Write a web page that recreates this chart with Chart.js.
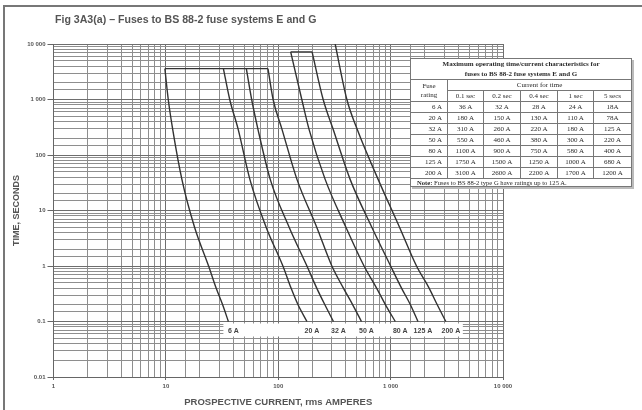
<!DOCTYPE html>
<html><head><meta charset="utf-8">
<script src="https://cdn.jsdelivr.net/npm/chart.js@4/dist/chart.umd.min.js"></script>
<style>
html,body{margin:0;padding:0;background:#fff;}
#wrap{position:relative;width:642px;height:410px;overflow:hidden;background:#fff;}
#frame{position:absolute;left:3px;top:5px;width:700px;height:420px;border-left:2px solid #777;border-top:2px solid #777;}
#c{position:absolute;left:0;top:0;}
#title{position:absolute;left:55px;top:13px;font:bold 10.6px "Liberation Sans",Arial,sans-serif;color:#555;white-space:nowrap;}
#tbl{position:absolute;left:410px;top:58px;border-collapse:collapse;table-layout:fixed;width:221px;background:#fff;font-family:"Liberation Serif","Times New Roman",serif;font-size:7px;color:#2a2a2a;box-shadow:2px 2px 0 #bbb;}
#tbl td{border:1px solid #777;padding:0;text-align:center;height:10px;line-height:9px;white-space:nowrap;overflow:hidden;}
#tbl td.r{text-align:right;padding-right:5px;}
#tbl td.note{text-align:left;padding-left:6px;height:7px;line-height:7px;font-size:6.6px;}
#tbl td.head{font-weight:bold;line-height:10px;height:20px;}
</style></head>
<body>
<div id="wrap">
  <div id="frame"></div>
  <canvas id="c" width="642" height="410"></canvas>
  <div id="title">Fig 3A3(a) – Fuses to BS 88-2 fuse systems E and G</div>
  <table id="tbl"></table>
</div>
<script>
// ---------- data ----------
const fuseRatings = ['6 A','20 A','32 A','50 A','80 A','125 A','200 A'];
const timeHeaders = ['0.1 sec','0.2 sec','0.4 sec','1 sec','5 secs'];
const tableTimes = [0.1, 0.2, 0.4, 1, 5];
// table values: current (A) for each fuse at 0.1, 0.2, 0.4, 1, 5 s
const current01s = [36, 180, 310, 550, 1100, 1750, 3100];
const current02s = [32, 150, 260, 460, 900, 1500, 2600];
const current04s = [28, 130, 220, 380, 750, 1250, 2200];
const current1s  = [24, 110, 180, 300, 580, 1000, 1700];
const current5s  = [18, 78, 125, 220, 400, 680, 1200];
// upper parts of the curves
const current36s   = [13.9, 56, 85, 147, 262, 437, 776];
const current290s  = [11.5, 44, 66, 108, 188, 308, 504];
const current1000s = [10.5, 37, 58, 90, 162, 251, 408];
const topTimes     = [3600, 3600, 3600, 3600, 7200, 7200, 10000];
const topCurrents  = [9.8, 32.5, 52, 81, 129, 200, 321];
// axis tick labels
const xTickValues = [1, 10, 100, 1000, 10000];
const xTickLabels = ['1', '10', '100', '1 000', '10 000'];
const yTickValues = [0.01, 0.1, 1, 10, 100, 1000, 10000];
const yTickLabels = ['0.01', '0.1', '1', '10', '100', '1 000', '10 000'];
const noteText = 'Fuses to BS 88-2 type G have ratings up to 125 A.';

// ---------- table ----------
const tableCols = [current01s, current02s, current04s, current1s, current5s];
(function buildTable(){
  const t = document.getElementById('tbl');
  let h = '<colgroup><col style="width:37px"><col style="width:36px"><col style="width:37px"><col style="width:37px"><col style="width:36px"><col style="width:38px"></colgroup>';
  h += '<tr><td colspan="6" class="head">Maximum operating time/current characteristics for<br>fuses to BS 88-2 fuse systems E and G</td></tr>';
  h += '<tr><td rowspan="2" style="line-height:9px">Fuse<br>rating</td><td colspan="5">Current for time</td></tr>';
  h += '<tr>' + timeHeaders.map(s => '<td>' + s + '</td>').join('') + '</tr>';
  fuseRatings.forEach((f, i) => {
    h += '<tr><td class="r">' + f + '</td>' + tableCols.map((col, j) => {
      const v = col[i];
      const txt = (j === 4 && v < 100) ? v + 'A' : v + ' A';
      return '<td>' + txt + '</td>';
    }).join('') + '</tr>';
  });
  h += '<tr><td colspan="6" class="note"><b>Note:</b> ' + noteText + '</td></tr>';
  t.innerHTML = h;
})();

// ---------- chart ----------
const isDecade = v => Math.abs(Math.log10(v) - Math.round(Math.log10(v))) < 1e-6;
const lookup = (vals, labels, v) => {
  for (let i = 0; i < vals.length; i++) if (Math.abs(Math.log10(v) - Math.log10(vals[i])) < 1e-6) return labels[i];
  return '';
};
const curveColor = '#333';
const datasets = fuseRatings.map((name, i) => ({
  label: name,
  data: [
    {x: topCurrents[i], y: topTimes[i]},
    {x: current1000s[i], y: 1000},
    {x: current290s[i], y: 290},
    {x: current36s[i], y: 36},
    {x: current5s[i], y: 5},
    {x: current1s[i], y: 1},
    {x: current04s[i], y: 0.4},
    {x: current02s[i], y: 0.2},
    {x: current01s[i], y: 0.1}
  ],
  borderColor: curveColor, borderWidth: 1.4, pointRadius: 0,
  cubicInterpolationMode: 'monotone', fill: false
}));
datasets.push({label: '1 h', data: [{x: topCurrents[0], y: topTimes[0]}, {x: topCurrents[3], y: topTimes[3]}],
  borderColor: curveColor, borderWidth: 1.4, pointRadius: 0});
datasets.push({label: '2 h', data: [{x: topCurrents[4], y: topTimes[4]}, {x: topCurrents[5], y: topTimes[5]}],
  borderColor: curveColor, borderWidth: 1.4, pointRadius: 0});

const labelPlugin = {
  id: 'curveLabels',
  afterDatasetsDraw(chart) {
    const {ctx, scales: {x, y}} = chart;
    const y0 = y.getPixelForValue(0.1);
    const xs = current01s.map(v => x.getPixelForValue(v));
    ctx.save();
    ctx.fillStyle = '#fff';
    ctx.fillRect(xs[0] - 5, y0 + 2, xs[xs.length - 1] + 17 - (xs[0] - 5), 13);
    ctx.fillStyle = '#444';
    ctx.font = 'bold 7px "Liberation Sans", Arial, sans-serif';
    ctx.textAlign = 'center'; ctx.textBaseline = 'middle';
    fuseRatings.forEach((r, i) => ctx.fillText(r, xs[i] + 5, y0 + 9.5));
    ctx.restore();
  }
};

const gridCol = c => (c.tick && isDecade(c.tick.value)) ? '#6e6e6e' : '#8e8e8e';
const tickCol = c => (c.tick && isDecade(c.tick.value)) ? '#666' : 'rgba(0,0,0,0)';

new Chart(document.getElementById('c'), {
  type: 'line',
  data: {datasets},
  options: {
    responsive: false, animation: false,
    parsing: false, normalized: true,
    layout: {padding: {left: 0, top: 44, right: 139, bottom: 0}},
    plugins: {legend: {display: false}, tooltip: {enabled: false}},
    scales: {
      x: {
        type: 'logarithmic', min: 1, max: 10000,
        afterFit: s => { s.height = 33; },
        grid: {color: gridCol, lineWidth: 1, tickLength: 3, tickColor: tickCol, drawTicks: true},
        border: {color: '#666', width: 1},
        ticks: {autoSkip: false, maxRotation: 0, padding: 3, color: '#555',
          font: {family: '"Liberation Sans", Arial, sans-serif', size: 6, weight: 'bold'},
          callback: v => lookup(xTickValues, xTickLabels, v)},
        title: {display: true, text: 'PROSPECTIVE CURRENT, rms AMPERES', color: '#555',
          font: {family: '"Liberation Sans", Arial, sans-serif', size: 9.5, weight: 'bold'},
          padding: {top: 0, bottom: 2}}
      },
      y: {
        type: 'logarithmic', min: 0.01, max: 10000,
        afterFit: s => { s.width = 53.5; },
        grid: {color: gridCol, lineWidth: 1, tickLength: 6, tickColor: tickCol, drawTicks: true},
        border: {color: '#666', width: 1},
        ticks: {autoSkip: false, padding: 2, color: '#555',
          font: {family: '"Liberation Sans", Arial, sans-serif', size: 6, weight: 'bold'},
          callback: v => lookup(yTickValues, yTickLabels, v)},
        title: {display: true, text: 'TIME, SECONDS', color: '#555',
          font: {family: '"Liberation Sans", Arial, sans-serif', size: 9, weight: 'bold'},
          padding: {top: 11, bottom: 0}}
      }
    }
  },
  plugins: [labelPlugin]
});
</script>
</body></html>
